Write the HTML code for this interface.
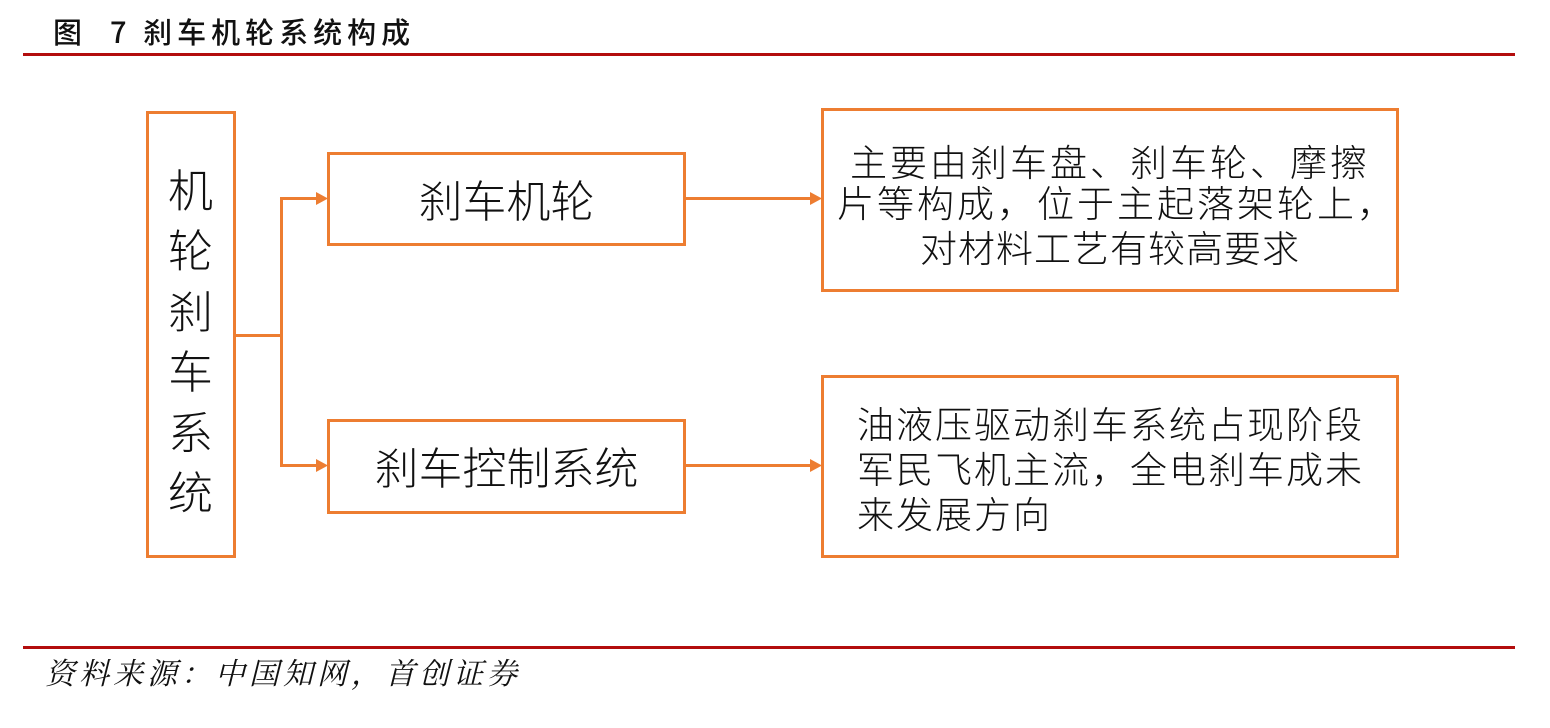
<!DOCTYPE html>
<html><head><meta charset="utf-8"><style>
body{margin:0;width:1550px;height:728px;background:#fff;position:relative;overflow:hidden;font-family:"Liberation Sans","Noto Sans CJK SC",sans-serif;color:#111}
.a{position:absolute}
.box{position:absolute;border:3px solid #ED7D31;box-sizing:border-box}
.line{position:absolute;background:#ED7D31}
.t{position:absolute;white-space:nowrap;line-height:1}
</style></head><body>
<div class="t" style="left:53px;top:17px;font-size:29px;letter-spacing:5px;font-family:'Noto Sans CJK SC',sans-serif;font-weight:500;">图&nbsp;&nbsp;7&nbsp;刹车机轮系统构成</div>
<div class="a" style="left:23px;top:53px;width:1492px;height:3px;background:#B30D0D"></div>

<div class="box" style="left:146px;top:111px;width:90px;height:447px"></div>
<div class="t" style="left:168px;top:158px;font-size:45px;line-height:60.4px;width:46px;white-space:normal;font-family:'Noto Sans CJK SC',sans-serif;font-weight:300">机<br>轮<br>刹<br>车<br>系<br>统</div>

<div class="box" style="left:327px;top:152px;width:359px;height:94px"></div>
<div class="t" style="left:327px;top:176px;width:359px;text-align:center;font-size:44px;font-family:'Noto Sans CJK SC',sans-serif;font-weight:300">刹车机轮</div>
<div class="box" style="left:327px;top:419px;width:359px;height:95px"></div>
<div class="t" style="left:327px;top:443px;width:359px;text-align:center;font-size:44px;font-family:'Noto Sans CJK SC',sans-serif;font-weight:300">刹车控制系统</div>

<div class="line" style="left:236px;top:334px;width:47px;height:3px"></div>
<div class="line" style="left:280px;top:197px;width:3px;height:270px"></div>
<div class="line" style="left:280px;top:197px;width:38px;height:3px"></div>
<div class="line" style="left:280px;top:464px;width:38px;height:3px"></div>
<div class="line" style="left:686px;top:197px;width:126px;height:3px"></div>
<div class="line" style="left:686px;top:464px;width:126px;height:3px"></div>
<svg class="a" style="left:0;top:0" width="1550" height="728">
<polygon points="316,192 328,198.5 316,205" fill="#ED7D31"/>
<polygon points="316,459 328,465.5 316,472" fill="#ED7D31"/>
<polygon points="810,192 822,198.5 810,205" fill="#ED7D31"/>
<polygon points="810,459 822,465.5 810,472" fill="#ED7D31"/>
</svg>

<div class="box" style="left:821px;top:108px;width:578px;height:184px"></div>
<div class="t" style="left:821px;top:142px;width:578px;text-align:center;font-size:37px;letter-spacing:3px;font-family:'Noto Sans CJK SC',sans-serif;font-weight:300">主要由刹车盘、刹车轮、摩擦</div>
<div class="t" style="left:828px;top:183px;width:578px;text-align:center;font-size:37px;letter-spacing:3px;font-family:'Noto Sans CJK SC',sans-serif;font-weight:300">片等构成，位于主起落架轮上，</div>
<div class="t" style="left:821px;top:228px;width:578px;text-align:center;font-size:37px;letter-spacing:1px;font-family:'Noto Sans CJK SC',sans-serif;font-weight:300">对材料工艺有较高要求</div>

<div class="box" style="left:821px;top:375px;width:578px;height:183px"></div>
<div class="t" style="left:857px;top:404px;font-size:37px;letter-spacing:2px;font-family:'Noto Sans CJK SC',sans-serif;font-weight:300">油液压驱动刹车系统占现阶段</div>
<div class="t" style="left:857px;top:449px;font-size:37px;letter-spacing:2px;font-family:'Noto Sans CJK SC',sans-serif;font-weight:300">军民飞机主流，全电刹车成未</div>
<div class="t" style="left:857px;top:494px;font-size:37px;letter-spacing:2px;font-family:'Noto Sans CJK SC',sans-serif;font-weight:300">来发展方向</div>

<div class="a" style="left:23px;top:646px;width:1492px;height:3px;background:#B30D0D"></div>
<div class="t" style="left:45px;top:656px;font-size:30px;letter-spacing:4px;font-style:italic;font-family:'Noto Serif CJK SC',serif;">资料来源：中国知网，首创证券</div>
</body></html>
